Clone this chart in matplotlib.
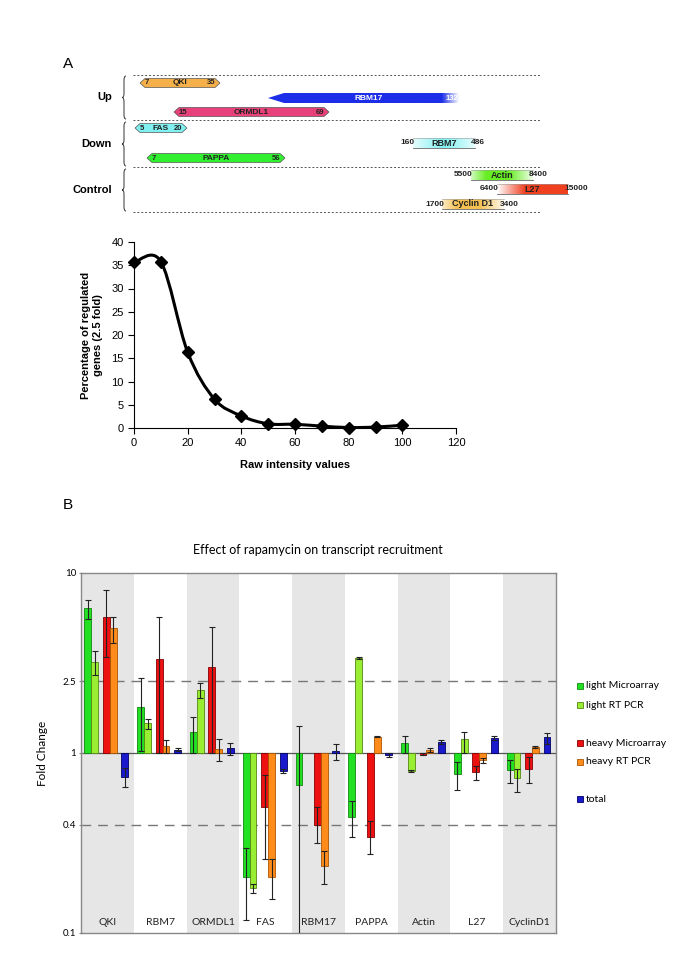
import numpy as np
import matplotlib
matplotlib.use("Agg")
import matplotlib.pyplot as plt
from matplotlib.patches import Polygon, Rectangle, PathPatch
from matplotlib.path import Path
from matplotlib.colors import to_rgb

plt.rcParams['font.family'] = ['Liberation Sans', 'DejaVu Sans']

# ---------- Panel A (schematic) data ----------
sch_names = ["QKI", "RBM17", "ORMDL1", "FAS", "PAPPA", "RBM7", "Actin", "L27", "Cyclin D1"]
sch_lo = ["7", "", "15", "5", "7", "160", "5500", "6400", "1700"]
sch_hi = ["35", "132", "69", "20", "56", "486", "8400", "15000", "3400"]
sch_colors = ["#f5b04a", "#1c2ee8", "#e8407a", "#80f0f0", "#30f030",
              "#7ff2f2", "#66ee22", "#f04020", "#f5c050"]
# layout on the schematic (pixels): start, end, row
sch_x0 = [140, 268, 174, 135, 147, 413, 471, 497, 442]
sch_x1 = [220, 460, 329, 187, 285, 475, 533, 568, 504]
sch_y = [83, 98, 112, 128, 158, 143, 175, 189, 204]
sch_kind = ["both", "left", "both", "both", "both", "fade", "fade", "fade", "fade"]
group_names = ["Up", "Down", "Control"]

# ---------- Panel A (curve) data ----------
intensity = [0, 10, 20, 30, 40, 50, 60, 70, 80, 90, 100]
pct_regulated = [35.6, 35.8, 16.3, 6.2, 2.6, 0.9, 0.8, 0.4, 0.1, 0.2, 0.6]

# ---------- Panel B data ----------
genes = ["QKI", "RBM7", "ORMDL1", "FAS", "RBM17", "PAPPA", "Actin", "L27", "CyclinD1"]
series = ["light Microarray", "light RT PCR", "heavy Microarray", "heavy RT PCR", "total"]

light_ma = [6.36, 1.81, 1.30, 0.206, 0.66, 0.443, 1.14, 0.76, 0.80]
light_ma_lo = [5.58, 1.02, 1.0, 0.118, 0.05, 0.342, 1.0, 0.62, 0.68]
light_ma_hi = [7.05, 2.6, 1.59, 0.297, 1.42, 0.54, 1.25, 0.89, 0.92]

light_rt = [3.2, 1.47, 2.23, 0.177, np.nan, 3.37, 0.79, 1.2, 0.73]
light_rt_lo = [2.71, 1.36, 2.01, 0.166, np.nan, 3.33, 0.78, 1.0, 0.61]
light_rt_hi = [3.69, 1.55, 2.44, 0.186, np.nan, 3.41, 0.80, 1.31, 0.82]

heavy_ma = [5.73, 3.33, 3.0, 0.504, 0.40, 0.342, 0.98, 0.78, 0.82]
heavy_ma_lo = [3.42, 1.0, 1.0, 0.257, 0.316, 0.275, 0.97, 0.71, 0.68]
heavy_ma_hi = [8.0, 5.66, 5.04, 0.75, 0.5, 0.42, 1.0, 0.85, 0.95]

heavy_rt = [4.97, 1.09, 1.05, 0.206, 0.235, 1.23, 1.04, 0.91, 1.08]
heavy_rt_lo = [4.1, 1.0, 0.9, 0.155, 0.186, 1.22, 1.01, 0.88, 1.07]
heavy_rt_hi = [5.73, 1.18, 1.2, 0.257, 0.285, 1.24, 1.07, 0.94, 1.09]

total = [0.733, 1.04, 1.07, 0.79, 1.02, 0.98, 1.15, 1.21, 1.23]
total_lo = [0.65, 1.02, 0.97, 0.77, 0.91, 0.95, 1.12, 1.18, 1.12]
total_hi = [0.83, 1.06, 1.14, 0.81, 1.12, 1.0, 1.18, 1.24, 1.29]

bar_face = ["#22e022", "#99ee33", "#ee1111", "#ff8c1a", "#1a1acc"]
bar_edge = ["#118811", "#558811", "#880000", "#aa5500", "#000066"]
offsets = [-0.37, -0.24, -0.02, 0.11, 0.33]

fig = plt.figure(figsize=(6.85, 9.68), dpi=100)

# overlay axes in pixel coordinates for the schematic and free labels
ov = fig.add_axes([0, 0, 1, 1])
ov.set_xlim(0, 685)
ov.set_ylim(968, 0)
ov.axis('off')

ov.text(68, 64, "A", fontsize=11, ha='center', va='center')
ov.text(68, 505, "B", fontsize=11, ha='center', va='center')

# dotted separators
for yy in [75, 120, 167, 212]:
    ov.plot([133, 540], [yy, yy], color='#555555', lw=0.7, ls=(0, (2, 2)))


def brace(x, y0, y1, w=4):
    ym = (y0 + y1) / 2
    verts = [(x + w / 2, y0), (x, y0), (x, y0 + w), (x, ym - w),
             (x, ym), (x - w / 2, ym), (x, ym), (x, ym + w),
             (x, y1 - w), (x, y1), (x + w / 2, y1)]
    codes = [Path.MOVETO, Path.CURVE3, Path.CURVE3, Path.LINETO,
             Path.CURVE3, Path.CURVE3, Path.CURVE3, Path.CURVE3,
             Path.LINETO, Path.CURVE3, Path.CURVE3]
    ov.add_patch(PathPatch(Path(verts, codes), fill=False, lw=0.7, ec='#333333'))


for (y0, y1), name in zip([(76, 119), (122, 166), (169, 211)], group_names):
    brace(124, y0, y1)
    ov.text(112, (y0 + y1) / 2, name, fontsize=8, fontweight='bold', ha='right', va='center')


def gradient_fill(x0, x1, yc, h, color, alpha, clip=None):
    rgb = to_rgb(color)
    img = np.zeros((1, len(alpha), 4))
    img[0, :, :3] = rgb
    img[0, :, 3] = alpha
    im = ov.imshow(img, extent=(x0, x1, yc + h / 2, yc - h / 2), aspect='auto',
                   interpolation='bilinear', zorder=2)
    if clip is not None:
        im.set_clip_path(clip)


for i in range(len(sch_names)):
    x0, x1, y, c = sch_x0[i], sch_x1[i], sch_y[i], sch_colors[i]
    kind = sch_kind[i]
    if kind == "both":
        h, t = 9, 5
        verts = [(x0, y), (x0 + t, y - h / 2), (x1 - t, y - h / 2), (x1, y),
                 (x1 - t, y + h / 2), (x0 + t, y + h / 2)]
        ov.add_patch(Polygon(verts, closed=True, fc=c, ec='#555555', lw=0.5, zorder=2))
        ov.text(x0 + t, y, sch_lo[i], fontsize=5.5, fontweight='bold', ha='left', va='center', color='#222222', zorder=3)
        ov.text(x1 - t, y, sch_hi[i], fontsize=5.5, fontweight='bold', ha='right', va='center', color='#222222', zorder=3)
        ov.text((x0 + x1) / 2, y, sch_names[i], fontsize=6, fontweight='bold', ha='center', va='center', color='#222222', zorder=3)
    elif kind == "left":
        h, t = 10, 16
        verts = [(x0, y), (x0 + t, y - h / 2), (x1, y - h / 2), (x1, y + h / 2), (x0 + t, y + h / 2)]
        poly = Polygon(verts, closed=True, fc='none', ec='none', transform=ov.transData)
        ov.add_patch(poly)
        alpha = np.concatenate([np.ones(90), np.linspace(1, 0, 10)])
        gradient_fill(x0, x1, y, h, c, alpha, clip=poly)
        ov.text((x0 + x1) / 2 + 5, y, sch_names[i], fontsize=6, fontweight='bold', ha='center', va='center', color='white', zorder=3)
        ov.text(x1 - 2, y, sch_hi[i], fontsize=5.5, fontweight='bold', ha='right', va='center', color='white', zorder=3)
    else:
        h = 10
        if sch_names[i] == "L27":
            alpha = np.concatenate([np.linspace(0, 1, 40), np.ones(60)])
        elif sch_names[i] == "RBM7":
            alpha = np.concatenate([np.linspace(0.2, 1, 50), np.linspace(1, 0.2, 50)])
        else:
            alpha = np.concatenate([np.linspace(0.3, 1, 25), np.ones(35), np.linspace(1, 0.1, 40)])
        gradient_fill(x0, x1, y, h, c, alpha)
        ov.plot([x0, x1], [y + h / 2, y + h / 2], color='#666666', lw=0.6, zorder=3)
        ov.plot([x0, x1], [y - h / 2, y - h / 2], color='#999999', lw=0.4, zorder=3)
        ov.text(x0 + 2, y, sch_lo[i], fontsize=6, fontweight='bold', ha='right', va='center', color='#222222', zorder=3)
        ov.text(x1 - 4, y, sch_hi[i], fontsize=6, fontweight='bold', ha='left', va='center', color='#222222', zorder=3)
        ov.text((x0 + x1) / 2, y, sch_names[i], fontsize=6.5, fontweight='bold', ha='center', va='center', color='#222222', zorder=3)

# ---------- Panel A curve ----------
ax1 = fig.add_axes([134 / 685, (968 - 428) / 968, 322 / 685, 186 / 968])
pts = np.column_stack([intensity, pct_regulated]).astype(float)
verts = [tuple(pts[0])]
codes = [Path.MOVETO]
n = len(pts)
for i in range(n - 1):
    p0 = pts[i - 1] if i > 0 else pts[i]
    p1 = pts[i]
    p2 = pts[i + 1]
    p3 = pts[i + 2] if i + 2 < n else pts[i + 1]
    c1 = p1 + (p2 - p0) / 6
    c2 = p2 - (p3 - p1) / 6
    verts += [tuple(c1), tuple(c2), tuple(p2)]
    codes += [Path.CURVE4] * 3
ax1.add_patch(PathPatch(Path(verts, codes), fill=False, lw=2.2, ec='black', zorder=3))
ax1.plot(intensity, pct_regulated, 'D', color='black', ms=6, zorder=4, clip_on=False)
ax1.set_xlim(0, 120)
ax1.set_ylim(0, 40)
ax1.set_xticks(range(0, 121, 20))
ax1.set_yticks(range(0, 41, 5))
ax1.spines['top'].set_visible(False)
ax1.spines['right'].set_visible(False)
ax1.tick_params(labelsize=8, length=4, width=0.8)
ax1.set_xlabel("Raw intensity values", fontsize=8, fontweight='bold', labelpad=8)
ax1.set_ylabel("Percentage of regulated\ngenes (2.5 fold)", fontsize=8, fontweight='bold', labelpad=6)

# ---------- Panel B ----------
bfont = ['Lato', 'DejaVu Sans']
ax2 = fig.add_axes([81 / 685, (968 - 933) / 968, 475 / 685, 360 / 968])
ax2.set_yscale('log')
ax2.set_ylim(0.1, 10)
ax2.set_xlim(-0.5, len(genes) - 0.5)
for i in range(len(genes)):
    if i % 2 == 0:
        ax2.axvspan(i - 0.5, i + 0.5, color='#e6e6e6', lw=0, zorder=0)

vals = [light_ma, light_rt, heavy_ma, heavy_rt, total]
los = [light_ma_lo, light_rt_lo, heavy_ma_lo, heavy_rt_lo, total_lo]
his = [light_ma_hi, light_rt_hi, heavy_ma_hi, heavy_rt_hi, total_hi]
xs = np.arange(len(genes))
for k in range(5):
    v = np.array(vals[k], dtype=float)
    lo = np.array(los[k], dtype=float)
    hi = np.array(his[k], dtype=float)
    ax2.bar(xs + offsets[k], v - 1, bottom=1, width=0.13, color=bar_face[k],
            edgecolor=bar_edge[k], lw=0.6, zorder=2)
    ax2.errorbar(xs + offsets[k], v, yerr=[v - lo, hi - v], fmt='none',
                 ecolor='#222222', elinewidth=0.8, capsize=2.5, capthick=0.8, zorder=3)

ax2.axhline(1, color='#555555', lw=0.9, zorder=1.5)
for ref in [2.5, 0.4]:
    ax2.axhline(ref, color='#777777', lw=1, ls=(0, (7, 5)), zorder=1)

ax2.set_yticks([0.1, 0.4, 1, 2.5, 10])
ax2.set_yticklabels(["0.1", "0.4", "1", "2.5", "10"], family=bfont)
ax2.yaxis.set_minor_locator(matplotlib.ticker.NullLocator())
ax2.set_xticks([])
ax2.tick_params(axis='y', labelsize=7, length=3, direction='inout', color='#888888', pad=2)
for sp in ax2.spines.values():
    sp.set_color('#888888')
    sp.set_linewidth(1)
for i, g in enumerate(genes):
    ax2.text(i, 0.115, g, ha='center', va='center', fontsize=7.5, family=bfont, color='#222222')

fig.text(318 / 685, 1 - 550 / 968, "Effect of rapamycin on transcript recruitment",
         ha='center', va='center', fontsize=9, family=bfont)
fig.text(42 / 685, 1 - 753 / 968, "Fold Change", rotation=90, ha='center', va='center',
         fontsize=8.5, family=bfont)

# legend
leg_y = [686, 705, 743, 762, 799]
for k in range(5):
    ov.add_patch(Rectangle((577, leg_y[k] - 3), 6, 6, fc=bar_face[k], ec=bar_edge[k], lw=0.6))
    ov.text(586, leg_y[k], series[k], fontsize=7.5, va='center', ha='left', family=bfont)

fig.savefig("out.png", dpi=100)
